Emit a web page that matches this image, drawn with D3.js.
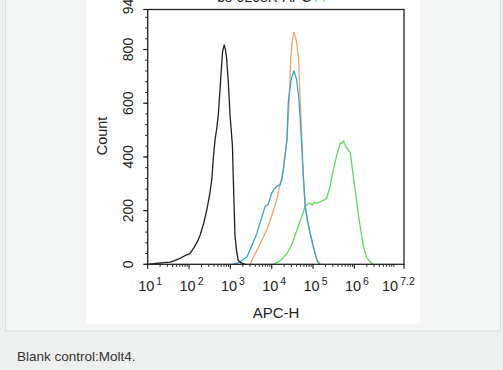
<!DOCTYPE html>
<html>
<head>
<meta charset="utf-8">
<script src="https://cdn.jsdelivr.net/npm/d3@7.9.0/dist/d3.min.js"></script>
<style>
  html, body { margin: 0; padding: 0; background: #eeefef; }
  svg { display: block; font-family: "Liberation Sans", Arial, sans-serif; }
</style>
</head>
<body>
<svg id="chart" width="503" height="370"></svg>
<script>
// exponents (log10 of APC-H) and counts
const blankX = [1.0, 1.2, 1.4, 1.54, 1.65, 1.78, 1.9, 2.02, 2.12, 2.22, 2.27, 2.35, 2.43, 2.5, 2.55, 2.59, 2.63, 2.67, 2.71, 2.77, 2.81, 2.85, 2.88, 2.91, 2.95, 2.99, 3.02, 3.05, 3.07, 3.09, 3.11, 3.15, 3.19, 3.26, 3.36];
const blankY = [0, 3, 6, 8, 14, 22, 32, 40, 62, 90, 110, 150, 203, 260, 315, 400, 465, 505, 560, 700, 790, 817, 800, 765, 680, 560, 500, 440, 320, 220, 110, 50, 15, 5, 0];

const isoX = [3.48, 3.56, 3.7, 3.88, 4.0, 4.12, 4.2, 4.28, 4.37, 4.42, 4.46, 4.5, 4.54, 4.6, 4.65, 4.69, 4.73, 4.76, 4.81, 4.87, 4.93, 5.0, 5.05, 5.1, 5.17];
const isoY = [0, 27, 70, 128, 180, 240, 295, 352, 465, 603, 765, 835, 865, 830, 765, 603, 465, 330, 215, 160, 115, 70, 40, 15, 0];

const antiX = [3.07, 3.2, 3.4, 3.52, 3.64, 3.75, 3.84, 3.92, 4.0, 4.06, 4.12, 4.2, 4.24, 4.28, 4.37, 4.4, 4.47, 4.54, 4.6, 4.65, 4.69, 4.74, 4.81, 4.87, 4.93, 5.0, 5.05, 5.1, 5.17];
const antiY = [0, 6, 27, 70, 115, 170, 215, 225, 265, 280, 290, 296, 310, 352, 465, 603, 690, 720, 690, 627, 540, 400, 215, 160, 115, 70, 40, 12, 0];

const targetX = [4.04, 4.2, 4.37, 4.5, 4.61, 4.72, 4.81, 4.89, 4.94, 4.98, 5.03, 5.09, 5.17, 5.25, 5.33, 5.41, 5.49, 5.58, 5.66, 5.7, 5.74, 5.78, 5.82, 5.9, 5.98, 6.06, 6.14, 6.22, 6.3, 6.38, 6.46];
const targetY = [0, 12, 40, 80, 128, 175, 215, 228, 225, 222, 230, 228, 233, 238, 246, 290, 352, 410, 452, 450, 459, 440, 434, 415, 320, 228, 140, 65, 25, 9, 0];

const yTicks = [0, 200, 400, 600, 800, 949];
const xExps = [1, 2, 3, 4, 5, 6, 7.2];

const svg = d3.select('#chart');

// page panels
svg.append('rect').attr('x', 0).attr('y', 0).attr('width', 503).attr('height', 370).attr('fill', '#eeefef');
svg.append('rect').attr('x', 5.5).attr('y', -1).attr('width', 495).attr('height', 332)
  .attr('fill', '#f4f5f5').attr('stroke', '#dcdddd');
svg.append('rect').attr('x', 86).attr('y', 0).attr('width', 334).attr('height', 324).attr('fill', '#fff');

svg.append('text').attr('x', 17).attr('y', 361).attr('font-size', 13.5).attr('fill', '#333')
  .text('Blank control:Molt4.');

const plotL = 147.7, plotR = 404, plotT = 9.5, plotB = 264.3;

const x = d3.scaleLog().domain([10, Math.pow(10, 7.2)]).range([plotL, plotR]);
const y = d3.scaleLinear().domain([0, 949]).range([plotB, plotT]);

// cut-off title
const title = svg.append('text').attr('x', 272).attr('y', 2).attr('text-anchor', 'middle')
  .attr('font-size', 14).attr('fill', '#222');
title.append('tspan').text('bs-0208R-APC ');
title.append('tspan').attr('fill', '#5ddc5d').text('/ /');

// clip
svg.append('clipPath').attr('id', 'plot').append('rect')
  .attr('x', plotL).attr('y', plotT).attr('width', plotR - plotL).attr('height', plotB - plotT);

const line = d3.line().x(d => x(Math.pow(10, d[0]))).y(d => y(d[1]));

const series = [
  { xs: targetX, ys: targetY, color: '#5fd95f' },
  { xs: isoX, ys: isoY, color: '#f2a468' },
  { xs: antiX, ys: antiY, color: '#34a3d3' },
  { xs: blankX, ys: blankY, color: '#1e1e1e' }
];

svg.append('g').attr('clip-path', 'url(#plot)')
  .selectAll('path')
  .data(series)
  .join('path')
  .attr('d', s => line(s.xs.map((v, i) => [v, s.ys[i]])))
  .attr('fill', 'none')
  .attr('stroke', s => s.color)
  .attr('stroke-width', 1.3)
  .attr('stroke-linejoin', 'round');

// frame
svg.append('rect').attr('x', plotL).attr('y', plotT).attr('width', plotR - plotL).attr('height', plotB - plotT)
  .attr('fill', 'none').attr('stroke', '#222').attr('stroke-width', 1.3);

// y axis ticks
const yMinor = d3.range(0, 949, 40);
svg.append('g').selectAll('line').data(yMinor).join('line')
  .attr('x1', plotL).attr('x2', plotL - 2.5)
  .attr('y1', d => y(d)).attr('y2', d => y(d))
  .attr('stroke', '#222').attr('stroke-width', 1);
svg.append('g').selectAll('line').data(yTicks).join('line')
  .attr('x1', plotL).attr('x2', plotL - 4.5)
  .attr('y1', d => y(d)).attr('y2', d => y(d))
  .attr('stroke', '#222').attr('stroke-width', 1.2);
svg.append('g').selectAll('text').data(yTicks).join('text')
  .attr('transform', d => `translate(133,${d === 949 ? y(d) - 7 : y(d)}) rotate(-90)`)
  .attr('text-anchor', 'middle')
  .attr('font-size', 14).attr('fill', '#222')
  .text(d => d);

svg.append('text')
  .attr('transform', 'translate(107,136) rotate(-90)')
  .attr('text-anchor', 'middle').attr('font-size', 14.5).attr('fill', '#222')
  .text('Count');

// x axis ticks (log)
const xMinor = [];
for (let e = 1; e < 7.2; e++) {
  for (let m = 2; m <= 9; m++) {
    const v = m * Math.pow(10, e);
    if (v < Math.pow(10, 7.2)) xMinor.push(v);
  }
}
svg.append('g').selectAll('line').data(xMinor).join('line')
  .attr('x1', d => x(d)).attr('x2', d => x(d))
  .attr('y1', plotB).attr('y2', plotB + 2.5)
  .attr('stroke', '#222').attr('stroke-width', 1);
svg.append('g').selectAll('line').data(xExps).join('line')
  .attr('x1', d => x(Math.pow(10, d))).attr('x2', d => x(Math.pow(10, d)))
  .attr('y1', plotB).attr('y2', plotB + 4.5)
  .attr('stroke', '#222').attr('stroke-width', 1.2);

const xl = svg.append('g').selectAll('text').data(xExps).join('text')
  .attr('x', d => d === 7.2 ? x(Math.pow(10, d)) - 22 : x(Math.pow(10, d)) - 9.5)
  .attr('y', 291)
  .attr('font-size', 14.5).attr('fill', '#222');
xl.append('tspan').text('10');
xl.append('tspan').attr('dx', 2).attr('dy', -6).attr('font-size', 10.5).text(d => d);

svg.append('text').attr('x', 276).attr('y', 318).attr('text-anchor', 'middle')
  .attr('font-size', 15).attr('fill', '#222').text('APC-H');
</script>
</body>
</html>
